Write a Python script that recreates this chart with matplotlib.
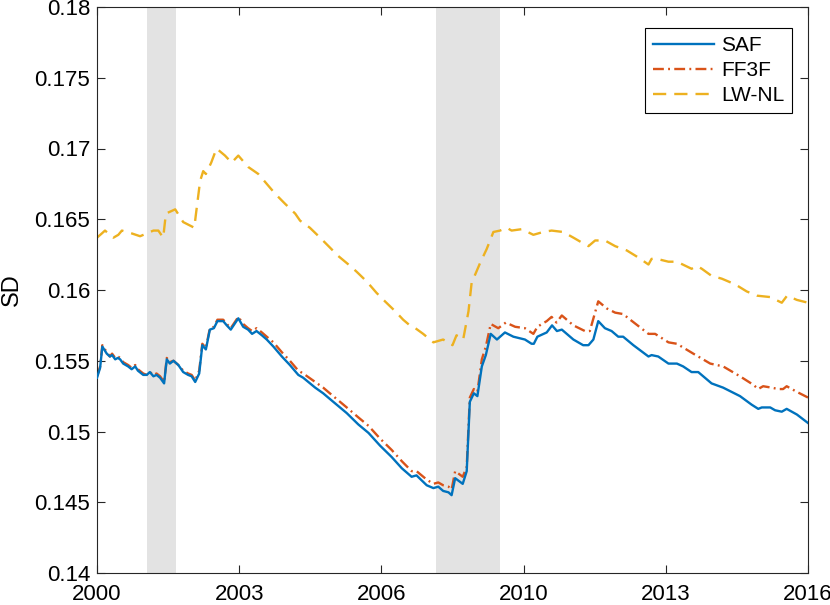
import matplotlib
matplotlib.use("Agg")
import matplotlib.pyplot as plt

# ---------------- data ----------------
saf_x = [2000.00, 2000.07, 2000.12, 2000.22, 2000.29, 2000.34, 2000.41, 2000.47, 2000.52, 2000.59,
         2000.70, 2000.78, 2000.86, 2000.92, 2001.04, 2001.12, 2001.19, 2001.27, 2001.34, 2001.42,
         2001.51, 2001.57, 2001.64, 2001.72, 2001.83, 2001.94, 2002.05, 2002.13, 2002.21, 2002.30,
         2002.37, 2002.45, 2002.54, 2002.63, 2002.71, 2002.84, 2002.92, 2003.01, 2003.18, 2003.29,
         2003.40, 2003.49, 2003.59, 2003.71, 2003.82, 2003.97, 2004.16, 2004.34, 2004.53, 2004.64,
         2004.91, 2005.09, 2005.24, 2005.43, 2005.62, 2005.88, 2006.11, 2006.37, 2006.63, 2006.86,
         2007.08, 2007.19, 2007.42, 2007.57, 2007.68, 2007.79, 2007.91, 2007.98, 2008.06, 2008.23,
         2008.32, 2008.39, 2008.48, 2008.56, 2008.66, 2008.75, 2008.86, 2009.00, 2009.18, 2009.37,
         2009.63, 2009.78, 2009.83, 2009.91, 2010.12, 2010.24, 2010.35, 2010.46, 2010.72, 2010.94,
         2011.06, 2011.17, 2011.28, 2011.43, 2011.58, 2011.73, 2011.84, 2012.07, 2012.41, 2012.48,
         2012.63, 2012.86, 2013.05, 2013.19, 2013.38, 2013.53, 2013.83, 2014.09, 2014.47, 2014.73,
         2014.88, 2014.96, 2015.15, 2015.26, 2015.41, 2015.52, 2015.75, 2016.00]
saf_y = [0.1538, 0.1545, 0.1560, 0.1555, 0.1553, 0.1554, 0.1551, 0.1552, 0.1551, 0.1548,
         0.1546, 0.1544, 0.1546, 0.1543, 0.1540, 0.1540, 0.1542, 0.1539, 0.1540, 0.1538,
         0.1534, 0.1551, 0.1548, 0.1550, 0.1547, 0.1542, 0.1540, 0.1539, 0.1535, 0.1541,
         0.1561, 0.1558, 0.1572, 0.1573, 0.1578, 0.1578, 0.1575, 0.1572, 0.1580, 0.1574,
         0.1572, 0.1569, 0.1571, 0.1568, 0.1565, 0.1560, 0.1553, 0.1547, 0.1540, 0.1538,
         0.1531, 0.1527, 0.1523, 0.1518, 0.1513, 0.1505, 0.1499, 0.1490, 0.1482, 0.1474,
         0.1468, 0.1469, 0.1462, 0.1460, 0.1461, 0.1458, 0.1457, 0.1455, 0.1467, 0.1463,
         0.1472, 0.1521, 0.1527, 0.1525, 0.1546, 0.1554, 0.1569, 0.1565, 0.1570, 0.1567,
         0.1565, 0.1562, 0.1562, 0.1567, 0.1570, 0.1575, 0.1571, 0.1572, 0.1565, 0.1561,
         0.1561, 0.1565, 0.1578, 0.1573, 0.1571, 0.1567, 0.1567, 0.1561, 0.1553, 0.1554,
         0.1553, 0.1548, 0.1548, 0.1546, 0.1542, 0.1542, 0.1534, 0.1531, 0.1525, 0.1519,
         0.1516, 0.1517, 0.1517, 0.1515, 0.1514, 0.1516, 0.1512, 0.1506]

ff3f_x = [2000.00, 2000.07, 2000.12, 2000.22, 2000.29, 2000.34, 2000.41, 2000.47, 2000.52, 2000.59,
          2000.70, 2000.78, 2000.86, 2000.92, 2001.04, 2001.12, 2001.19, 2001.27, 2001.34, 2001.42,
          2001.51, 2001.57, 2001.64, 2001.72, 2001.83, 2001.94, 2002.05, 2002.13, 2002.21, 2002.30,
          2002.37, 2002.45, 2002.54, 2002.63, 2002.71, 2002.84, 2002.92, 2003.01, 2003.18, 2003.29,
          2003.40, 2003.49, 2003.59, 2003.71, 2003.82, 2003.97, 2004.16, 2004.34, 2004.53, 2004.64,
          2004.91, 2005.09, 2005.24, 2005.43, 2005.62, 2005.88, 2006.11, 2006.37, 2006.63, 2006.86,
          2007.08, 2007.19, 2007.42, 2007.57, 2007.68, 2007.79, 2007.91, 2007.98, 2008.06, 2008.23,
          2008.32, 2008.39, 2008.48, 2008.56, 2008.66, 2008.75, 2008.86, 2009.03, 2009.20, 2009.41,
          2009.63, 2009.82, 2009.91, 2010.12, 2010.23, 2010.34, 2010.46, 2010.72, 2010.98, 2011.09,
          2011.28, 2011.47, 2011.66, 2011.84, 2012.00, 2012.41, 2012.56, 2012.86, 2013.05, 2013.42,
          2013.80, 2014.09, 2014.47, 2014.77, 2014.88, 2014.99, 2015.18, 2015.33, 2015.44, 2015.52,
          2015.75, 2016.00]
ff3f_y = [0.1539, 0.1546, 0.1561, 0.1556, 0.1553, 0.1555, 0.1552, 0.1553, 0.1552, 0.1549,
          0.1547, 0.1545, 0.1547, 0.1544, 0.1541, 0.1540, 0.1542, 0.1540, 0.1541, 0.1539,
          0.1535, 0.1552, 0.1549, 0.1550, 0.1547, 0.1543, 0.1541, 0.1540, 0.1536, 0.1543,
          0.1562, 0.1559, 0.1573, 0.1574, 0.1579, 0.1579, 0.1576, 0.1573, 0.1581, 0.1576,
          0.1573, 0.1571, 0.1573, 0.1570, 0.1567, 0.1563, 0.1556, 0.1550, 0.1543, 0.1541,
          0.1535, 0.1531, 0.1527, 0.1522, 0.1517, 0.1510, 0.1504, 0.1495, 0.1487, 0.1479,
          0.1472, 0.1472, 0.1466, 0.1463, 0.1464, 0.1462, 0.1461, 0.1459, 0.1472, 0.1468,
          0.1475, 0.1524, 0.1530, 0.1528, 0.1551, 0.1560, 0.1576, 0.1573, 0.1577, 0.1574,
          0.1573, 0.1569, 0.1574, 0.1578, 0.1581, 0.1577, 0.1582, 0.1575, 0.1571, 0.1571,
          0.1592, 0.1587, 0.1584, 0.1583, 0.1579, 0.1569, 0.1569, 0.1563, 0.1562, 0.1555,
          0.1548, 0.1546, 0.1539, 0.1533, 0.1530, 0.1532, 0.1531, 0.1530, 0.1530, 0.1532,
          0.1528, 0.1524]

lw_x = [2000.00, 2000.11, 2000.18, 2000.37, 2000.48, 2000.56, 2000.78, 2000.97, 2001.12, 2001.27,
        2001.38, 2001.49, 2001.55, 2001.76, 2001.94, 2002.19, 2002.22, 2002.32, 2002.39, 2002.45,
        2002.57, 2002.69, 2002.88, 2003.03, 2003.18, 2003.40, 2003.63, 2003.82, 2004.01, 2004.23,
        2004.46, 2004.57, 2004.79, 2005.02, 2005.21, 2005.43, 2005.66, 2005.84, 2006.07, 2006.29,
        2006.48, 2006.71, 2006.89, 2007.04, 2007.12, 2007.34, 2007.57, 2007.79, 2008.00, 2008.09,
        2008.24, 2008.36, 2008.43, 2008.62, 2008.77, 2008.92, 2009.07, 2009.22, 2009.33, 2009.56,
        2009.82, 2010.04, 2010.23, 2010.49, 2010.72, 2010.94, 2011.06, 2011.21, 2011.43, 2011.66,
        2011.92, 2012.18, 2012.41, 2012.48, 2012.60, 2012.86, 2013.05, 2013.38, 2013.50, 2013.61,
        2013.83, 2014.06, 2014.36, 2014.62, 2014.85, 2015.15, 2015.41, 2015.53, 2015.75, 2016.00]
lw_y = [0.1637, 0.1640, 0.1642, 0.1637, 0.1639, 0.1642, 0.1640, 0.1638, 0.1640, 0.1642,
        0.1642, 0.1637, 0.1654, 0.1657, 0.1648, 0.1644, 0.1652, 0.1677, 0.1684, 0.1682,
        0.1690, 0.1700, 0.1695, 0.1690, 0.1695, 0.1687, 0.1682, 0.1675, 0.1668, 0.1661,
        0.1654, 0.1649, 0.1644, 0.1637, 0.1631, 0.1624, 0.1618, 0.1613, 0.1606, 0.1598,
        0.1592, 0.1585, 0.1579, 0.1575, 0.1574, 0.1569, 0.1563, 0.1565, 0.1561, 0.1568,
        0.1565, 0.1585, 0.1605, 0.1619, 0.1629, 0.1641, 0.1642, 0.1644, 0.1642, 0.1643,
        0.1639, 0.1641, 0.1642, 0.1641, 0.1637, 0.1633, 0.1631, 0.1635, 0.1635, 0.1631,
        0.1628, 0.1623, 0.1618, 0.1622, 0.1622, 0.1620, 0.1620, 0.1615, 0.1617, 0.1615,
        0.1610, 0.1608, 0.1604, 0.1599, 0.1596, 0.1595, 0.1591, 0.1596, 0.1593, 0.1591]

recessions = [(2001.13, 2001.78), (2007.63, 2009.07)]
series_names = ["SAF", "FF3F", "LW-NL"]
xtick_pos = [2000, 2003.2, 2006.4, 2009.6, 2012.8, 2016]
xtick_labels = ["2000", "2003", "2006", "2010", "2013", "2016"]
ytick_vals = [0.14, 0.145, 0.15, 0.155, 0.16, 0.165, 0.17, 0.175, 0.18]
ytick_labels = ["0.14", "0.145", "0.15", "0.155", "0.16", "0.165", "0.17", "0.175", "0.18"]

# ---------------- style ----------------
plt.rcParams["font.family"] = ["Liberation Sans", "DejaVu Sans"]

axc = "#262626"
fig = plt.figure(figsize=(8.3, 6.05), dpi=100)
ax = fig.add_axes([97/830, 1-573/605, 711/830, 566/605])

for a, b in recessions:
    ax.axvspan(a, b, color="#e3e3e3", lw=0, zorder=0)

lwid = 1.7
l1, = ax.plot(saf_x, saf_y, color="#0072BD", lw=lwid, label=series_names[0], zorder=3)
l2, = ax.plot(ff3f_x, ff3f_y, color="#D95319", lw=lwid, label=series_names[1], zorder=2)
l2.set_dashes([4.6, 1.8, 0.8, 1.8])
l3, = ax.plot(lw_x, lw_y, color="#EDB120", lw=lwid, label=series_names[2], zorder=2)
l3.set_dashes([5.6, 3.4])

ax.set_xlim(2000, 2016)
ax.set_ylim(0.14, 0.18)
ax.set_xticks(xtick_pos)
ax.set_xticklabels(xtick_labels)
ax.set_yticks(ytick_vals)
ax.set_yticklabels(ytick_labels)
ax.tick_params(direction="in", length=6, width=0.8, colors=axc, labelsize=16,
               top=True, right=True, labelcolor="black")
ax.tick_params(axis="x", pad=8)
ax.tick_params(axis="y", pad=5)
for s in ax.spines.values():
    s.set_color(axc)
    s.set_linewidth(0.8)
ax.set_ylabel("SD", fontsize=17, labelpad=8)

leg = ax.legend(loc="upper right", bbox_to_anchor=(0.9775, 0.963), borderaxespad=0,
                fontsize=15, frameon=True, fancybox=False, edgecolor="black", framealpha=1,
                handlelength=2.9, handletextpad=0.35, borderpad=0.38, labelspacing=0.3)
leg.get_frame().set_linewidth(0.8)

fig.savefig("out.png", dpi=100)
